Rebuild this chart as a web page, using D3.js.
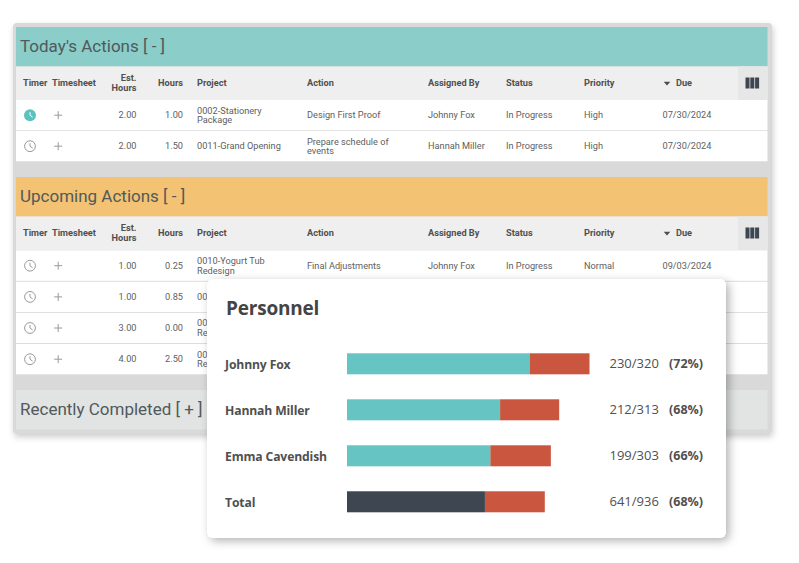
<!DOCTYPE html>
<html>
<head>
<meta charset="utf-8">
<script src="https://cdn.jsdelivr.net/npm/d3@7"></script>
<style>
  body { margin: 0; background: #fff; }
  svg { display: block; }
  text { font-family: Roboto, sans-serif; fill: #606060; }
  .head { font-weight: 700; font-size: 9.2px; fill: #505050; }
  .cell { font-size: 9.2px; }
  .section { font-size: 17px; fill: #4f5a5c; }
  .card text { font-family: "Open Sans", sans-serif; fill: #505050; }
</style>
</head>
<body>
<div id="chart"></div>
<script>
// table text
var columns = ["Timer", "Timesheet", "Est.|Hours", "Hours", "Project", "Action", "Assigned By", "Status", "Priority", "Due"];

var todayEst = ["2.00", "2.00"];
var todayHours = ["1.00", "1.50"];
var todayProject = ["0002-Stationery|Package", "0011-Grand Opening"];
var todayAction = ["Design First Proof", "Prepare schedule of|events"];
var todayAssigned = ["Johnny Fox", "Hannah Miller"];
var todayStatus = ["In Progress", "In Progress"];
var todayPriority = ["High", "High"];
var todayDue = ["07/30/2024", "07/30/2024"];

// the card hides most of the lower rows, only what shows is kept
var upcomingEst = ["1.00", "1.00", "3.00", "4.00"];
var upcomingHours = ["0.25", "0.85", "0.00", "2.50"];
var upcomingProject = ["0010-Yogurt Tub|Redesign", "00", "00|Re", "00|Re"];
var upcomingAction = ["Final Adjustments", "", "", ""];
var upcomingAssigned = ["Johnny Fox", "", "", ""];
var upcomingStatus = ["In Progress", "", "", ""];
var upcomingPriority = ["Normal", "", "", ""];
var upcomingDue = ["09/03/2024", "", "", ""];

// personnel card
var people = ["Johnny Fox", "Hannah Miller", "Emma Cavendish", "Total"];
var ratios = ["230/320", "212/313", "199/303", "641/936"];
var percents = ["(72%)", "(68%)", "(66%)", "(68%)"];
// bar lengths as drawn, they do not follow the labels exactly
var barDone = [241.5, 202, 189, 182];
var barFull = [320, 280, 269, 261];

var svgWidth = 799;
var svgHeight = 563;

var svg = d3.select("#chart")
  .append("svg")
  .attr("width", svgWidth)
  .attr("height", svgHeight);

var defs = svg.append("defs");
defs.append("filter").attr("id", "panelShadow")
  .attr("x", "-5%").attr("y", "-5%").attr("width", "110%").attr("height", "110%")
  .append("feDropShadow")
  .attr("dx", 1).attr("dy", 3).attr("stdDeviation", 3)
  .attr("flood-color", "#000").attr("flood-opacity", 0.2);
defs.append("filter").attr("id", "cardShadow")
  .attr("x", "-10%").attr("y", "-10%").attr("width", "120%").attr("height", "120%")
  .append("feDropShadow")
  .attr("dx", 3).attr("dy", 3).attr("stdDeviation", 5)
  .attr("flood-color", "#000").attr("flood-opacity", 0.3);

var left = 16;
var right = 767.5;

// column positions, anchor is how the text sits on that x
var colX = [23, 52, 136.5, 183, 197, 307, 428, 506, 584, 676];
var colAnchor = ["start", "start", "end", "end", "start", "start", "start", "start", "start", "start"];

// grey panel behind everything
svg.append("rect")
  .attr("x", 13).attr("y", 23)
  .attr("width", 759).attr("height", 411)
  .attr("rx", 4)
  .attr("fill", "#d9d9d9")
  .attr("filter", "url(#panelShadow)");

function multiline(g, value, x, y, anchor, cls) {
  var lines = value.split("|");
  lines.forEach(function(line, i) {
    g.append("text")
      .attr("class", cls)
      .attr("x", x)
      .attr("y", y + (i - (lines.length - 1) / 2) * 9.8)
      .attr("dy", "0.35em")
      .attr("text-anchor", anchor)
      .text(line);
  });
}

function clock(g, x, y, active) {
  g.append("circle")
    .attr("cx", x).attr("cy", y).attr("r", active ? 6 : 5.4)
    .attr("fill", active ? "#5cc2c0" : "none")
    .attr("stroke", active ? "none" : "#9a9a9a")
    .attr("stroke-width", 1);
  g.append("path")
    .attr("d", d3.line()([[x, y - 3], [x, y], [x + 2.6, y + 2]]))
    .attr("fill", "none")
    .attr("stroke", active ? "#fff" : "#9a9a9a")
    .attr("stroke-width", 1);
}

function drawSection(top, title, color, rowTops, rowData, activeRow) {
  var g = svg.append("g");

  g.append("rect")
    .attr("x", left).attr("y", top)
    .attr("width", right - left).attr("height", 39.5)
    .attr("fill", color);
  g.append("text")
    .attr("class", "section")
    .attr("x", 20).attr("y", top + 19.5)
    .attr("dy", "0.35em")
    .text(title);

  // column header
  var headTop = top + 39.5;
  g.append("rect")
    .attr("x", left).attr("y", headTop)
    .attr("width", right - left).attr("height", 34)
    .attr("fill", "#efefef");
  g.append("rect")
    .attr("x", 738).attr("y", headTop)
    .attr("width", right - 738).attr("height", 34)
    .attr("fill", "#e7e7e7");

  var headY = headTop + 16.5;
  columns.forEach(function(c, i) {
    multiline(g, c, colX[i], headY, colAnchor[i], "head");
  });

  // sort arrow next to Due
  g.append("path")
    .attr("d", d3.symbol(d3.symbolTriangle, 12))
    .attr("transform", "translate(667," + headY + ") rotate(180) scale(1.25,0.8)")
    .attr("fill", "#4d4d4d");

  // column picker icon
  [745.5, 750.3, 755.1].forEach(function(x) {
    g.append("rect")
      .attr("x", x).attr("y", headY - 5.5)
      .attr("width", 4).attr("height", 11)
      .attr("fill", "#3e4651");
  });

  rowTops.forEach(function(y0, r) {
    g.append("rect")
      .attr("x", left).attr("y", y0)
      .attr("width", right - left).attr("height", 30.3)
      .attr("fill", "#fff");
    var cy = y0 + 15.2;
    clock(g, 30, cy, r === activeRow);
    g.append("path")
      .attr("d", "M54.2," + cy + "H62.2M58.2," + (cy - 4) + "V" + (cy + 4))
      .attr("stroke", "#9a9a9a")
      .attr("fill", "none");
    rowData.forEach(function(col, k) {
      multiline(g, col[r], colX[k + 2] - (k === 7 ? 13.5 : 0), cy, colAnchor[k + 2], "cell");
    });
  });
}

drawSection(27, "Today's Actions [ - ]", "#8bcdc9", [100, 131],
  [todayEst, todayHours, todayProject, todayAction, todayAssigned, todayStatus, todayPriority, todayDue], 0);

drawSection(177, "Upcoming Actions [ - ]", "#f3c272", [250.5, 281.7, 312.8, 344],
  [upcomingEst, upcomingHours, upcomingProject, upcomingAction, upcomingAssigned, upcomingStatus, upcomingPriority, upcomingDue], -1);

// collapsed section
svg.append("rect")
  .attr("x", left).attr("y", 390)
  .attr("width", right - left).attr("height", 39.5)
  .attr("fill", "#e2e3e3");
svg.append("text")
  .attr("class", "section")
  .attr("x", 20).attr("y", 409.5)
  .attr("dy", "0.35em")
  .text("Recently Completed [ + ]");

// personnel card
var card = svg.append("g").attr("class", "card");

card.append("rect")
  .attr("x", 207).attr("y", 279)
  .attr("width", 519).attr("height", 259)
  .attr("rx", 6)
  .attr("fill", "#fff")
  .attr("filter", "url(#cardShadow)");

card.append("text")
  .attr("x", 226).attr("y", 315)
  .attr("font-size", 19)
  .attr("font-weight", 700)
  .attr("letter-spacing", -0.2)
  .style("fill", "#444")
  .text("Personnel");

var xScale = d3.scaleLinear()
  .domain([0, 320])
  .range([347, 589.5]);

var yScale = d3.scaleBand()
  .domain(people)
  .range([353.3, 512.3])
  .paddingInner(0.543);

card.selectAll(".rest")
  .data(people)
  .enter()
  .append("rect")
  .attr("class", "rest")
  .attr("x", (d, i) => xScale(barDone[i]))
  .attr("y", d => yScale(d))
  .attr("width", (d, i) => xScale(barFull[i]) - xScale(barDone[i]))
  .attr("height", yScale.bandwidth())
  .attr("fill", "#ca563f");

card.selectAll(".done")
  .data(people)
  .enter()
  .append("rect")
  .attr("class", "done")
  .attr("x", xScale(0))
  .attr("y", d => yScale(d))
  .attr("width", (d, i) => xScale(barDone[i]) - xScale(0))
  .attr("height", yScale.bandwidth())
  .attr("fill", d => d === "Total" ? "#3e4651" : "#66c4c2");

var rowMid = d => yScale(d) + yScale.bandwidth() / 2;

card.selectAll(".name")
  .data(people)
  .enter()
  .append("text")
  .attr("class", "name")
  .attr("x", 225)
  .attr("y", d => rowMid(d) + 0.5)
  .attr("dy", "0.35em")
  .attr("font-size", 12.2)
  .attr("font-weight", 700)
  .attr("letter-spacing", -0.15)
  .text(d => d);

card.selectAll(".ratio")
  .data(ratios)
  .enter()
  .append("text")
  .attr("class", "ratio")
  .attr("x", 609.5)
  .attr("y", (d, i) => rowMid(people[i]))
  .attr("dy", "0.35em")
  .attr("font-size", 13)
  .text(d => d);

card.selectAll(".percent")
  .data(percents)
  .enter()
  .append("text")
  .attr("class", "percent")
  .attr("x", 669)
  .attr("y", (d, i) => rowMid(people[i]))
  .attr("dy", "0.35em")
  .attr("font-size", 12.5)
  .attr("font-weight", 700)
  .text(d => d);
</script>
</body>
</html>
